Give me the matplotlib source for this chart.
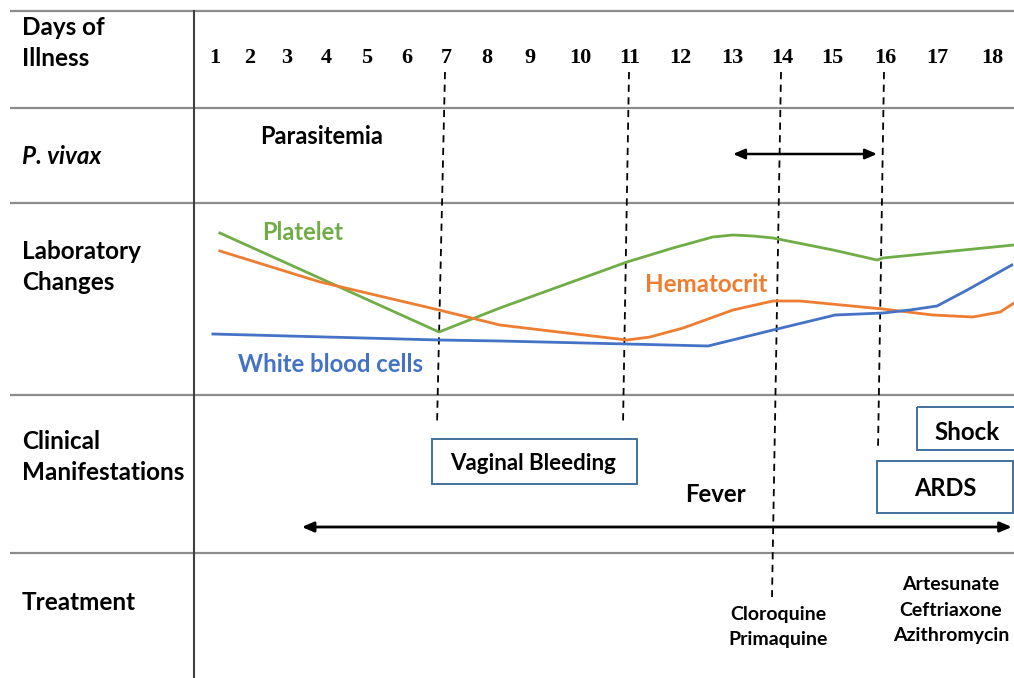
import numpy as np
import matplotlib.pyplot as plt
from matplotlib.patches import Rectangle

# day columns (the original table does not space them evenly)
days = list(range(1, 19))
day_pos = [215, 250, 287, 326, 367, 407, 446, 487, 530, 580, 630, 680,
           732, 782, 832, 885, 937, 992]

row_labels = ["Days of\nIllness", "P. vivax", "Laboratory\nChanges",
              "Clinical\nManifestations", "Treatment"]

# laboratory curves, day of illness vs relative level (arbitrary units)
platelet_day = [1.14, 6.82, 8.30, 10.94, 11.86, 12.63, 13.02, 13.42, 13.82,
                15.02, 15.85, 15.96, 18.40]
platelet_lvl = [162, 63, 87, 133, 147, 158, 160, 159, 157, 145, 135, 137, 150]

hct_day = [1.14, 3.85, 6.82, 8.30, 9.74, 10.94, 11.40, 12.06, 13.02, 13.82,
           14.36, 15.96, 16.92, 17.65, 18.15, 18.40]
hct_lvl = [144, 113, 85, 70, 62, 55, 58, 67, 85, 94, 94, 86, 80, 78, 83, 92]

wbc_day = [0.94, 6.82, 8.30, 10.94, 12.54, 13.82, 15.06, 15.96, 16.48, 17.0,
           17.55, 18.36]
wbc_lvl = [61, 55, 54, 51, 49, 65, 80, 82, 85, 89, 105, 130]

event_days = [7, 11, 14, 16]
parasitemia_days = (13.02, 15.85)
fever_days = (3.38, 18.36)

treat_14 = "Cloroquine\nPrimaquine"
treat_16 = "Artesunate\nCeftriaxone\nAzithromycin"

green = "#70AD47"
orange = "#ED7D31"
blue = "#4472C4"
box_edge = "#41719C"
label_font = "Lato"


def xpos(d):
    d = np.asarray(d, dtype=float)
    x = np.interp(d, days, day_pos)
    x = np.where(d > 18, day_pos[-1] + (d - 18) * 55, x)
    x = np.where(d < 1, day_pos[0] + (d - 1) * 35, x)
    return x


def lab_y(v):
    # bottom of the laboratory row is the zero level
    return 395 - np.asarray(v, dtype=float)


fig = plt.figure(figsize=(10.14, 6.78), dpi=100)
ax = fig.add_axes([0, 0, 1, 1])
ax.set_xlim(0, 1014)
ax.set_ylim(678, 0)
ax.axis("off")

# table grid
for y in [11, 108, 203, 395, 553]:
    ax.plot([10, 1014], [y, y], color="#8c8c8c", lw=1.6, solid_capstyle="butt")
ax.plot([194, 194], [11, 678], color="#404040", lw=1.5)

# row headers
row_y = [43, 157, 267, 457, 602]
for lab, y in zip(row_labels, row_y):
    style = "italic" if lab.startswith("P.") else "normal"
    ax.text(22, y, lab, ha="left", va="center", fontsize=17.5,
            fontweight="bold", fontstyle=style, family=label_font,
            linespacing=1.4)

# day numbers
for d, x in zip(days, day_pos):
    ax.text(x, 58, str(d), ha="center", va="center", fontsize=16,
            fontweight="bold", family="Liberation Serif")

# event markers
ends = [425, 425, 597, 450]
lean = [8, 6, 9, 6]
for d, yb, s in zip(event_days, ends, lean):
    x0 = float(xpos(d))
    ax.plot([x0 - 1, x0 - 1 - s], [72, yb], color="black", lw=1.3,
            dashes=(4, 3))

# parasitemia
ax.annotate("", xy=(float(xpos(parasitemia_days[1])), 154),
            xytext=(float(xpos(parasitemia_days[0])), 154),
            arrowprops=dict(arrowstyle="<|-|>,head_length=0.7,head_width=0.3",
                            color="black", lw=1.8, shrinkA=0, shrinkB=0))
ax.text(322, 137, "Parasitemia", ha="center", va="center", fontsize=17,
        fontweight="bold", family=label_font)

# lab curves
for dd, vv, c in [(platelet_day, platelet_lvl, green),
                  (hct_day, hct_lvl, orange),
                  (wbc_day, wbc_lvl, blue)]:
    ax.plot(xpos(dd), lab_y(vv), color=c, lw=2, solid_joinstyle="round")
ax.text(303, 232, "Platelet", color=green, ha="center", va="center",
        fontsize=17, fontweight="bold", family=label_font)
ax.text(706, 284, "Hematocrit", color=orange, ha="center", va="center",
        fontsize=17.4, fontweight="bold", family=label_font)
ax.text(331, 365, "White blood cells", color=blue, ha="center", va="center",
        fontsize=17.2, fontweight="bold", family=label_font)

# clinical manifestations
for (x0, y0, x1, y1), txt in [((432, 439, 637, 484), "Vaginal Bleeding"),
                              ((917, 407, 1020, 450), "Shock"),
                              ((877, 461, 1013, 513), "ARDS")]:
    ax.add_patch(Rectangle((x0, y0), x1 - x0, y1 - y0, fill=False,
                           edgecolor=box_edge, lw=1.4))
fs = {"Vaginal Bleeding": 16, "Shock": 17.4, "ARDS": 17}
for txt, (x, y) in [("Vaginal Bleeding", (533, 463)), ("Shock", (967, 433)),
                    ("ARDS", (945, 489))]:
    ax.text(x, y, txt, ha="center", va="center", fontsize=fs[txt],
            fontweight="bold", family=label_font)

ax.annotate("", xy=(float(xpos(fever_days[1])), 527),
            xytext=(float(xpos(fever_days[0])), 527),
            arrowprops=dict(arrowstyle="<|-|>,head_length=0.7,head_width=0.3",
                            color="black", lw=2, shrinkA=0, shrinkB=0))
ax.text(715, 494, "Fever", ha="center", va="center", fontsize=17.3,
        fontweight="bold", family=label_font)

# treatment
ax.text(778, 627, treat_14, ha="center", va="center", fontsize=14,
        fontweight="bold", family=label_font, linespacing=1.6)
ax.text(951, 610, treat_16, ha="center", va="center", fontsize=14,
        fontweight="bold", family=label_font, linespacing=1.6)

fig.savefig("out.png", dpi=100, facecolor="white")
